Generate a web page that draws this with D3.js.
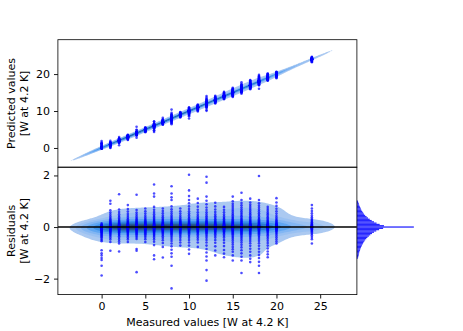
<!DOCTYPE html>
<html>
<head>
<meta charset="utf-8">
<script src="https://cdnjs.cloudflare.com/ajax/libs/d3/7.8.5/d3.min.js"></script>
<style>
  body { margin: 0; background: #fff; }
  svg { display: block; font-family: "DejaVu Sans", sans-serif; }
</style>
</head>
<body>
<svg id="chart"></svg>
<script>
// measured value of every group of points
var measured = [0, 1, 2, 3, 4, 5, 6, 7, 8, 9, 10, 11, 12, 13, 14, 15, 16, 17, 18, 19, 20, 24.05];

// residuals (measured - predicted) read per group
var res0 = [0.14, 0.1, 0.08, 0.06, 0.05, 0.04, 0.03, 0.03, 0.02, 0.02, 0.01, 0.01, 0.01, 0, 0, 0, 0, 0, -0.01, -0.01, -0.01, -0.02, -0.02, -0.02, -0.03, -0.03, -0.04, -0.04, -0.05, -0.05, -0.06, -0.07, -0.08, -0.09, -0.1, -0.11, -0.12, -0.14, -0.15, -0.17, -0.19, -0.21, -0.23, -0.26, -0.29, -0.32, -0.36, -0.4, -0.45, -0.5, -0.55, -0.9, -1.02, -1.1, -1.2, -1.28, -1.5, -1.88];
var res1 = [1.02, 0.9, 0.65, 0.56, 0.48, 0.41, 0.35, 0.3, 0.26, 0.22, 0.19, 0.16, 0.14, 0.12, 0.1, 0.09, 0.08, 0.07, 0.06, 0.05, 0.04, 0.04, 0.03, 0.03, 0.02, 0.02, 0.01, 0.01, 0.01, 0, 0, 0, 0, -0.01, -0.01, -0.01, -0.02, -0.02, -0.03, -0.03, -0.04, -0.05, -0.06, -0.07, -0.08, -0.1, -0.12, -0.14, -0.16, -0.19, -0.22, -0.26, -0.3, -0.35, -0.41, -0.48, -0.58, -0.92];
var res2 = [1.27, 0.68, 0.58, 0.5, 0.43, 0.37, 0.32, 0.27, 0.23, 0.2, 0.17, 0.15, 0.13, 0.11, 0.09, 0.08, 0.07, 0.06, 0.05, 0.04, 0.03, 0.03, 0.02, 0.02, 0.01, 0.01, 0, 0, 0, 0, -0.01, -0.01, -0.02, -0.02, -0.03, -0.03, -0.04, -0.05, -0.06, -0.07, -0.08, -0.09, -0.11, -0.13, -0.15, -0.17, -0.2, -0.23, -0.27, -0.31, -0.36, -0.42, -0.49, -0.56, -0.64, -0.95];
var res3 = [0.85, 0.7, 0.6, 0.51, 0.43, 0.36, 0.3, 0.25, 0.21, 0.18, 0.15, 0.13, 0.11, 0.09, 0.08, 0.07, 0.06, 0.05, 0.04, 0.03, 0.03, 0.02, 0.02, 0.01, 0.01, 0, 0, 0, 0, -0.01, -0.01, -0.02, -0.02, -0.03, -0.04, -0.05, -0.06, -0.07, -0.08, -0.1, -0.12, -0.14, -0.16, -0.19, -0.22, -0.26, -0.3, -0.35, -0.41, -0.48, -0.58];
var res4 = [1.25, 0.66, 0.56, 0.48, 0.41, 0.35, 0.3, 0.26, 0.22, 0.19, 0.16, 0.14, 0.12, 0.1, 0.09, 0.08, 0.07, 0.06, 0.05, 0.04, 0.03, 0.03, 0.02, 0.02, 0.01, 0.01, 0, 0, 0, 0, -0.01, -0.01, -0.02, -0.02, -0.03, -0.04, -0.05, -0.06, -0.07, -0.08, -0.1, -0.12, -0.14, -0.17, -0.2, -0.24, -0.28, -0.33, -0.39, -0.46, -0.85, -0.92, -1.75];
var res5 = [0.72, 0.61, 0.52, 0.44, 0.37, 0.31, 0.26, 0.22, 0.19, 0.16, 0.14, 0.12, 0.1, 0.09, 0.08, 0.07, 0.06, 0.05, 0.04, 0.03, 0.03, 0.02, 0.02, 0.01, 0.01, 0, 0, 0, 0, -0.01, -0.01, -0.02, -0.02, -0.03, -0.04, -0.05, -0.06, -0.07, -0.08, -0.1, -0.12, -0.14, -0.17, -0.2, -0.24, -0.28, -0.33, -0.39, -0.47, -0.58];
var res6 = [1.65, 1.3, 1.18, 0.78, 0.67, 0.58, 0.5, 0.43, 0.37, 0.32, 0.27, 0.23, 0.2, 0.17, 0.15, 0.13, 0.11, 0.09, 0.08, 0.07, 0.06, 0.05, 0.04, 0.03, 0.03, 0.02, 0.02, 0.01, 0.01, 0, 0, 0, 0, -0.01, -0.01, -0.02, -0.02, -0.03, -0.04, -0.05, -0.06, -0.07, -0.08, -0.1, -0.12, -0.14, -0.16, -0.19, -0.22, -0.26, -0.3, -0.35, -0.41, -0.48, -0.57, -0.7, -1.1, -1.25];
var res7 = [0.72, 0.62, 0.53, 0.45, 0.38, 0.32, 0.27, 0.23, 0.19, 0.16, 0.14, 0.12, 0.1, 0.09, 0.08, 0.07, 0.06, 0.05, 0.04, 0.03, 0.03, 0.02, 0.02, 0.01, 0.01, 0, 0, 0, 0, -0.01, -0.01, -0.02, -0.02, -0.03, -0.04, -0.05, -0.06, -0.07, -0.09, -0.11, -0.13, -0.15, -0.18, -0.21, -0.25, -0.3, -0.36, -0.43, -0.51, -0.62, -0.77, -1.18];
var res8 = [1.58, 1.3, 1.15, 1.05, 0.8, 0.69, 0.6, 0.52, 0.45, 0.39, 0.33, 0.28, 0.24, 0.2, 0.17, 0.15, 0.13, 0.11, 0.09, 0.08, 0.07, 0.06, 0.05, 0.04, 0.03, 0.03, 0.02, 0.02, 0.01, 0.01, 0, 0, 0, 0, -0.01, -0.01, -0.02, -0.02, -0.03, -0.04, -0.05, -0.06, -0.07, -0.08, -0.1, -0.12, -0.14, -0.17, -0.2, -0.24, -0.28, -0.33, -0.39, -0.46, -0.54, -0.64, -0.75, -0.88, -1.02, -1.15, -1.5, -2.38];
var res9 = [0.72, 0.61, 0.52, 0.44, 0.37, 0.31, 0.26, 0.22, 0.19, 0.16, 0.14, 0.12, 0.1, 0.09, 0.08, 0.07, 0.06, 0.05, 0.04, 0.03, 0.03, 0.02, 0.02, 0.01, 0.01, 0, 0, 0, 0, -0.01, -0.01, -0.02, -0.02, -0.03, -0.04, -0.05, -0.06, -0.07, -0.08, -0.1, -0.12, -0.14, -0.17, -0.2, -0.24, -0.29, -0.35, -0.42, -0.5, -0.6, -0.72];
var res10 = [2.03, 1.42, 1.2, 1.05, 0.92, 0.8, 0.7, 0.61, 0.53, 0.46, 0.4, 0.34, 0.29, 0.25, 0.21, 0.18, 0.15, 0.13, 0.11, 0.09, 0.08, 0.07, 0.06, 0.05, 0.04, 0.03, 0.03, 0.02, 0.02, 0.01, 0.01, 0, 0, 0, 0, -0.01, -0.01, -0.02, -0.02, -0.03, -0.04, -0.05, -0.06, -0.07, -0.08, -0.1, -0.12, -0.14, -0.17, -0.2, -0.24, -0.29, -0.35, -0.42, -0.5, -0.6, -0.72, -0.87, -1.04];
var res11 = [1.1, 0.93, 0.79, 0.67, 0.57, 0.48, 0.41, 0.35, 0.3, 0.25, 0.21, 0.18, 0.15, 0.13, 0.11, 0.09, 0.08, 0.07, 0.06, 0.05, 0.04, 0.03, 0.03, 0.02, 0.02, 0.01, 0.01, 0, 0, 0, 0, -0.01, -0.01, -0.02, -0.02, -0.03, -0.04, -0.05, -0.06, -0.07, -0.09, -0.11, -0.13, -0.16, -0.19, -0.23, -0.28, -0.34, -0.41, -0.49, -0.6, -0.77];
var res12 = [1.95, 1.72, 1.18, 1.02, 0.88, 0.76, 0.66, 0.57, 0.49, 0.42, 0.36, 0.31, 0.26, 0.22, 0.19, 0.16, 0.14, 0.12, 0.1, 0.09, 0.08, 0.07, 0.06, 0.05, 0.04, 0.03, 0.03, 0.02, 0.02, 0.01, 0.01, 0, 0, 0, 0, -0.01, -0.01, -0.02, -0.02, -0.03, -0.04, -0.05, -0.06, -0.07, -0.08, -0.1, -0.12, -0.14, -0.17, -0.2, -0.24, -0.29, -0.35, -0.42, -0.5, -0.6, -0.72, -0.85, -0.99, -1.14, -1.3, -1.67, -2.08];
var res13 = [0.94, 0.8, 0.68, 0.58, 0.49, 0.42, 0.36, 0.3, 0.25, 0.21, 0.18, 0.15, 0.13, 0.11, 0.09, 0.08, 0.07, 0.06, 0.05, 0.04, 0.03, 0.03, 0.02, 0.02, 0.01, 0.01, 0, 0, 0, 0, -0.01, -0.01, -0.02, -0.02, -0.03, -0.04, -0.05, -0.06, -0.07, -0.09, -0.11, -0.13, -0.16, -0.19, -0.23, -0.28, -0.34, -0.41, -0.5, -0.61, -0.75, -0.91, -1.1];
var res14 = [0.78, 0.67, 0.57, 0.48, 0.41, 0.35, 0.3, 0.25, 0.21, 0.18, 0.15, 0.13, 0.11, 0.09, 0.08, 0.07, 0.06, 0.05, 0.04, 0.03, 0.03, 0.02, 0.02, 0.01, 0.01, 0, 0, 0, 0, -0.01, -0.01, -0.02, -0.02, -0.03, -0.04, -0.05, -0.06, -0.07, -0.09, -0.11, -0.13, -0.16, -0.19, -0.23, -0.28, -0.34, -0.41, -0.5, -0.61, -0.74, -0.89, -1.03, -1.17];
var res15 = [1.18, 1.0, 0.9, 0.82, 0.74, 0.66, 0.59, 0.52, 0.46, 0.4, 0.35, 0.3, 0.26, 0.22, 0.19, 0.16, 0.14, 0.12, 0.1, 0.08, 0.07, 0.06, 0.05, 0.04, 0.03, 0.02, 0.02, 0.01, 0.01, 0, 0, 0, -0.01, -0.01, -0.02, -0.02, -0.03, -0.04, -0.05, -0.06, -0.08, -0.1, -0.12, -0.14, -0.17, -0.2, -0.24, -0.28, -0.33, -0.39, -0.45, -0.52, -0.6, -0.68, -0.77, -0.86, -0.96, -1.1, -1.3];
var res16 = [1.33, 1.05, 0.93, 0.84, 0.76, 0.68, 0.61, 0.54, 0.48, 0.42, 0.36, 0.31, 0.27, 0.23, 0.2, 0.17, 0.14, 0.12, 0.1, 0.08, 0.07, 0.06, 0.05, 0.04, 0.03, 0.02, 0.02, 0.01, 0.01, 0, 0, 0, -0.01, -0.01, -0.02, -0.02, -0.03, -0.04, -0.05, -0.06, -0.08, -0.1, -0.12, -0.14, -0.17, -0.2, -0.24, -0.28, -0.33, -0.39, -0.45, -0.52, -0.6, -0.69, -0.79, -0.9, -1.02, -1.15, -1.3, -1.78];
var res17 = [1.1, 0.95, 0.86, 0.78, 0.7, 0.63, 0.56, 0.5, 0.44, 0.38, 0.33, 0.28, 0.24, 0.21, 0.18, 0.15, 0.13, 0.11, 0.09, 0.08, 0.07, 0.06, 0.05, 0.04, 0.03, 0.02, 0.02, 0.01, 0.01, 0, 0, 0, -0.01, -0.01, -0.02, -0.02, -0.03, -0.04, -0.05, -0.06, -0.08, -0.1, -0.12, -0.14, -0.17, -0.2, -0.24, -0.28, -0.33, -0.39, -0.46, -0.54, -0.63, -0.73, -0.84, -0.96, -1.1, -1.23, -1.36];
var res18 = [1.98, 1.05, 0.92, 0.83, 0.75, 0.67, 0.6, 0.53, 0.47, 0.41, 0.35, 0.3, 0.26, 0.22, 0.19, 0.16, 0.14, 0.12, 0.1, 0.08, 0.07, 0.06, 0.05, 0.04, 0.03, 0.02, 0.02, 0.01, 0.01, 0, 0, 0, -0.01, -0.01, -0.02, -0.02, -0.03, -0.04, -0.05, -0.06, -0.08, -0.1, -0.12, -0.14, -0.17, -0.2, -0.24, -0.28, -0.33, -0.39, -0.46, -0.54, -0.63, -0.73, -0.84, -0.96, -1.08, -1.2, -1.35, -1.5, -1.78];
var res19 = [0.78, 0.7, 0.63, 0.56, 0.5, 0.44, 0.38, 0.33, 0.28, 0.24, 0.2, 0.17, 0.14, 0.12, 0.1, 0.08, 0.07, 0.06, 0.05, 0.04, 0.03, 0.02, 0.02, 0.01, 0.01, 0, 0, 0, -0.01, -0.01, -0.02, -0.02, -0.03, -0.04, -0.05, -0.06, -0.08, -0.1, -0.12, -0.15, -0.18, -0.22, -0.27, -0.32, -0.38, -0.45, -0.53, -0.62, -0.72, -0.83, -0.95, -1.06, -1.17];
var res20 = [1.12, 0.95, 0.82, 0.71, 0.61, 0.52, 0.44, 0.37, 0.31, 0.26, 0.22, 0.18, 0.15, 0.13, 0.11, 0.09, 0.08, 0.07, 0.06, 0.05, 0.04, 0.03, 0.02, 0.02, 0.01, 0.01, 0, 0, 0, -0.01, -0.01, -0.02, -0.02, -0.03, -0.04, -0.05, -0.06, -0.08, -0.1, -0.12, -0.15, -0.18, -0.22, -0.27, -0.33, -0.4, -0.48, -0.56, -0.64];
var res24 = [0.85, 0.72, 0.62, 0.53, 0.45, 0.38, 0.32, 0.27, 0.23, 0.19, 0.16, 0.13, 0.11, 0.09, 0.07, 0.05, 0.04, 0.03, 0.02, 0.01, 0.01, 0, 0, 0, -0.01, -0.01, -0.02, -0.03, -0.04, -0.05, -0.07, -0.09, -0.11, -0.14, -0.17, -0.21, -0.26, -0.32, -0.39, -0.47, -0.64];
var residuals = [res0, res1, res2, res3, res4, res5, res6, res7, res8, res9, res10,
  res11, res12, res13, res14, res15, res16, res17, res18, res19, res20, res24];

// residual histogram (bin centres, bin width 0.05)
var histCenters = [-1.2, -1.15, -1.1, -1.05, -1.0, -0.95, -0.9, -0.85, -0.8, -0.75, -0.7, -0.65, -0.6, -0.55, -0.5, -0.45, -0.4, -0.35, -0.3, -0.25, -0.2, -0.15, -0.1, -0.05,
  0, 0.05, 0.1, 0.15, 0.2, 0.25, 0.3, 0.35, 0.4, 0.45, 0.5, 0.55, 0.6, 0.65, 0.7, 0.75, 0.8, 0.85, 0.9, 0.95, 1.0];
var histCounts = [4, 5, 6, 7, 8, 9, 11, 12, 14, 16, 18, 21, 23, 26, 29, 33, 37, 42, 47, 53, 60, 68, 78, 92,
  200, 95, 80, 69, 60, 52, 45, 39, 34, 29, 25, 22, 19, 16, 14, 12, 10, 8, 7, 5, 4];
var histBinWidth = 0.05;

// tick labels
var xTicks = [0, 5, 10, 15, 20, 25];
var predTicks = [0, 10, 20];
var resTicks = [-2, 0, 2];

var width = 463, height = 331;
var axLeft = 57.9, axRight = 356.9, histRight = 416.7;
var axTop = 39.7, axMid = 167.2, axBottom = 294.6;
var kdeThresh = 0.1;

var svg = d3.select("#chart").attr("width", width).attr("height", height);

var x = d3.scaleLinear().domain([-5.0, 29.2]).range([axLeft, axRight]);
var yPred = d3.scaleLinear().domain([-5.2, 29.3]).range([axMid, axTop]);
var yRes = d3.scaleLinear().domain([-2.62, 2.32]).range([axBottom, axMid]);
var xHist = d3.scaleLinear().domain([0, 210]).range([axRight, histRight]);

// flatten the groups into points
var points = [];
measured.forEach(function(m, i) {
  residuals[i].forEach(function(r) {
    points.push({m: m, r: r, p: m - r});
  });
});

// colours of the kde levels, light to dark
var cmap = d3.interpolateRgbBasis(["#abc9f1", "#74b0f4", "#3592f0", "#2470c4", "#26466c"]);

// gaussian kde with full covariance (scott's rule), evaluated on a pixel grid
function drawKde(g, pts, xs, ys, x0, y0, w, h, step) {
  var n = pts.length;
  var mx = d3.mean(pts, function(d) { return d[0]; });
  var my = d3.mean(pts, function(d) { return d[1]; });
  var sxx = 0, syy = 0, sxy = 0;
  pts.forEach(function(d) {
    var a = d[0] - mx, b = d[1] - my;
    sxx += a * a; syy += b * b; sxy += a * b;
  });
  var f2 = Math.pow(n, -1 / 3);
  var a = sxx / (n - 1) * f2, b = sxy / (n - 1) * f2, c = syy / (n - 1) * f2;
  var det = a * c - b * b;
  var ia = c / det, ib = -b / det, ic = a / det;

  var nx = Math.ceil(w / step) + 1, ny = Math.ceil(h / step) + 1;
  var values = new Array(nx * ny);
  for (var j = 0; j < ny; j++) {
    var dy = ys.invert(y0 + j * step);
    for (var i = 0; i < nx; i++) {
      var dx = xs.invert(x0 + i * step);
      var s = 0;
      for (var k = 0; k < n; k++) {
        var u = dx - pts[k][0], v = dy - pts[k][1];
        var q = ia * u * u + 2 * ib * u * v + ic * v * v;
        if (q < 40) s += Math.exp(-0.5 * q);
      }
      values[j * nx + i] = s;
    }
  }

  // iso-proportion levels like seaborn (10 levels from kdeThresh)
  var sorted = values.slice().sort(function(p, q) { return q - p; });
  var total = d3.sum(sorted);
  var cum = [], acc = 0;
  sorted.forEach(function(v) { acc += v; cum.push(acc / total); });
  var levels = d3.range(10).map(function(i) {
    var qq = kdeThresh + i * (1 - kdeThresh) / 9;
    var idx = d3.bisectLeft(cum, 1 - qq);
    return sorted[Math.min(idx, sorted.length - 1)];
  });
  var mids = d3.range(9).map(function(i) { return (levels[i] + levels[i + 1]) / 2; });

  var contours = d3.contours().size([nx, ny]).thresholds(levels.slice(0, 9))(values);
  var path = d3.geoPath(d3.geoTransform({
    point: function(gx, gy) {
      this.stream.point(x0 + (gx - 0.5) * step, y0 + (gy - 0.5) * step);
    }
  }));
  g.selectAll("path.kde")
    .data(contours)
    .enter()
    .append("path")
    .attr("class", "kde")
    .attr("d", path)
    .attr("fill", function(d, i) { return cmap((mids[i] - mids[0]) / (mids[8] - mids[0])); })
    .attr("stroke", "none");
}

// clip paths for the two panels
var defs = svg.append("defs");
defs.append("clipPath").attr("id", "clipTop")
  .append("rect").attr("x", axLeft).attr("y", axTop).attr("width", axRight - axLeft).attr("height", axMid - axTop);
defs.append("clipPath").attr("id", "clipBot")
  .append("rect").attr("x", axLeft).attr("y", axMid).attr("width", axRight - axLeft).attr("height", axBottom - axMid);

// top panel: predicted vs measured
var gTop = svg.append("g").attr("clip-path", "url(#clipTop)");
drawKde(gTop, points.map(function(d) { return [d.m, d.p]; }), x, yPred, axLeft, axTop, axRight - axLeft, axMid - axTop, 1);
gTop.selectAll("circle")
  .data(points)
  .enter()
  .append("circle")
  .attr("cx", function(d) { return x(d.m); })
  .attr("cy", function(d) { return yPred(d.p); })
  .attr("r", 1.3)
  .attr("fill", "#0000ff")
  .attr("fill-opacity", 0.7);

// bottom panel: residuals
var gBot = svg.append("g").attr("clip-path", "url(#clipBot)");
drawKde(gBot, points.map(function(d) { return [d.m, d.r]; }), x, yRes, axLeft, axMid, axRight - axLeft, axBottom - axMid, 1.5);
gBot.selectAll("circle")
  .data(points)
  .enter()
  .append("circle")
  .attr("cx", function(d) { return x(d.m); })
  .attr("cy", function(d) { return yRes(d.r); })
  .attr("r", 1.3)
  .attr("fill", "#0000ff")
  .attr("fill-opacity", 0.7);
gBot.append("line")
  .attr("x1", axLeft).attr("x2", axRight)
  .attr("y1", yRes(0)).attr("y2", yRes(0))
  .attr("stroke", "#000")
  .attr("stroke-width", 1.5);

// side histogram of residuals
svg.append("g").selectAll("rect")
  .data(histCounts)
  .enter()
  .append("rect")
  .attr("x", xHist(0))
  .attr("y", function(d, i) { return yRes(histCenters[i] + histBinWidth / 2); })
  .attr("width", function(d) { return xHist(d) - xHist(0); })
  .attr("height", function(d, i) { return yRes(histCenters[i] - histBinWidth / 2) - yRes(histCenters[i] + histBinWidth / 2); })
  .attr("fill", "#0000ff")
  .attr("fill-opacity", 0.85);

// axes
function styleAxis(g) {
  g.attr("font-size", 11).attr("font-family", "DejaVu Sans");
  g.select(".domain").remove();
  g.selectAll(".tick line").attr("stroke", "#000").attr("stroke-width", 0.9);
  g.selectAll(".tick text").attr("fill", "#000");
}
svg.append("g")
  .attr("transform", "translate(0," + axBottom + ")")
  .call(d3.axisBottom(x).tickValues(xTicks).tickSize(3.9).tickPadding(3.9).tickFormat(d3.format("d")))
  .call(styleAxis);
svg.append("g")
  .attr("transform", "translate(" + axLeft + ",0)")
  .call(d3.axisLeft(yPred).tickValues(predTicks).tickSize(3.9).tickPadding(3.9).tickFormat(d3.format("d")))
  .call(styleAxis);
svg.append("g")
  .attr("transform", "translate(" + axLeft + ",0)")
  .call(d3.axisLeft(yRes).tickValues(resTicks).tickSize(3.9).tickPadding(3.9).tickFormat(d3.format("d")))
  .call(styleAxis);

// spines
svg.append("rect")
  .attr("x", axLeft).attr("y", axTop).attr("width", axRight - axLeft).attr("height", axMid - axTop)
  .attr("fill", "none").attr("stroke", "#000").attr("stroke-width", 0.8);
svg.append("rect")
  .attr("x", axLeft).attr("y", axMid).attr("width", axRight - axLeft).attr("height", axBottom - axMid)
  .attr("fill", "none").attr("stroke", "#000").attr("stroke-width", 0.8);

// labels
function yLabel(cy, lines) {
  var xs = [14.5, 27.5];
  lines.forEach(function(t, i) {
    svg.append("text")
      .attr("transform", "translate(" + xs[i] + "," + cy + ") rotate(-90)")
      .attr("text-anchor", "middle")
      .attr("font-size", 11)
      .text(t);
  });
}
yLabel((axTop + axMid) / 2, ["Predicted values", "[W at 4.2 K]"]);
yLabel((axMid + axBottom) / 2, ["Residuals", "[W at 4.2 K]"]);
svg.append("text")
  .attr("x", (axLeft + axRight) / 2)
  .attr("y", 325.5)
  .attr("text-anchor", "middle")
  .attr("font-size", 11)
  .text("Measured values [W at 4.2 K]");
</script>
</body>
</html>
